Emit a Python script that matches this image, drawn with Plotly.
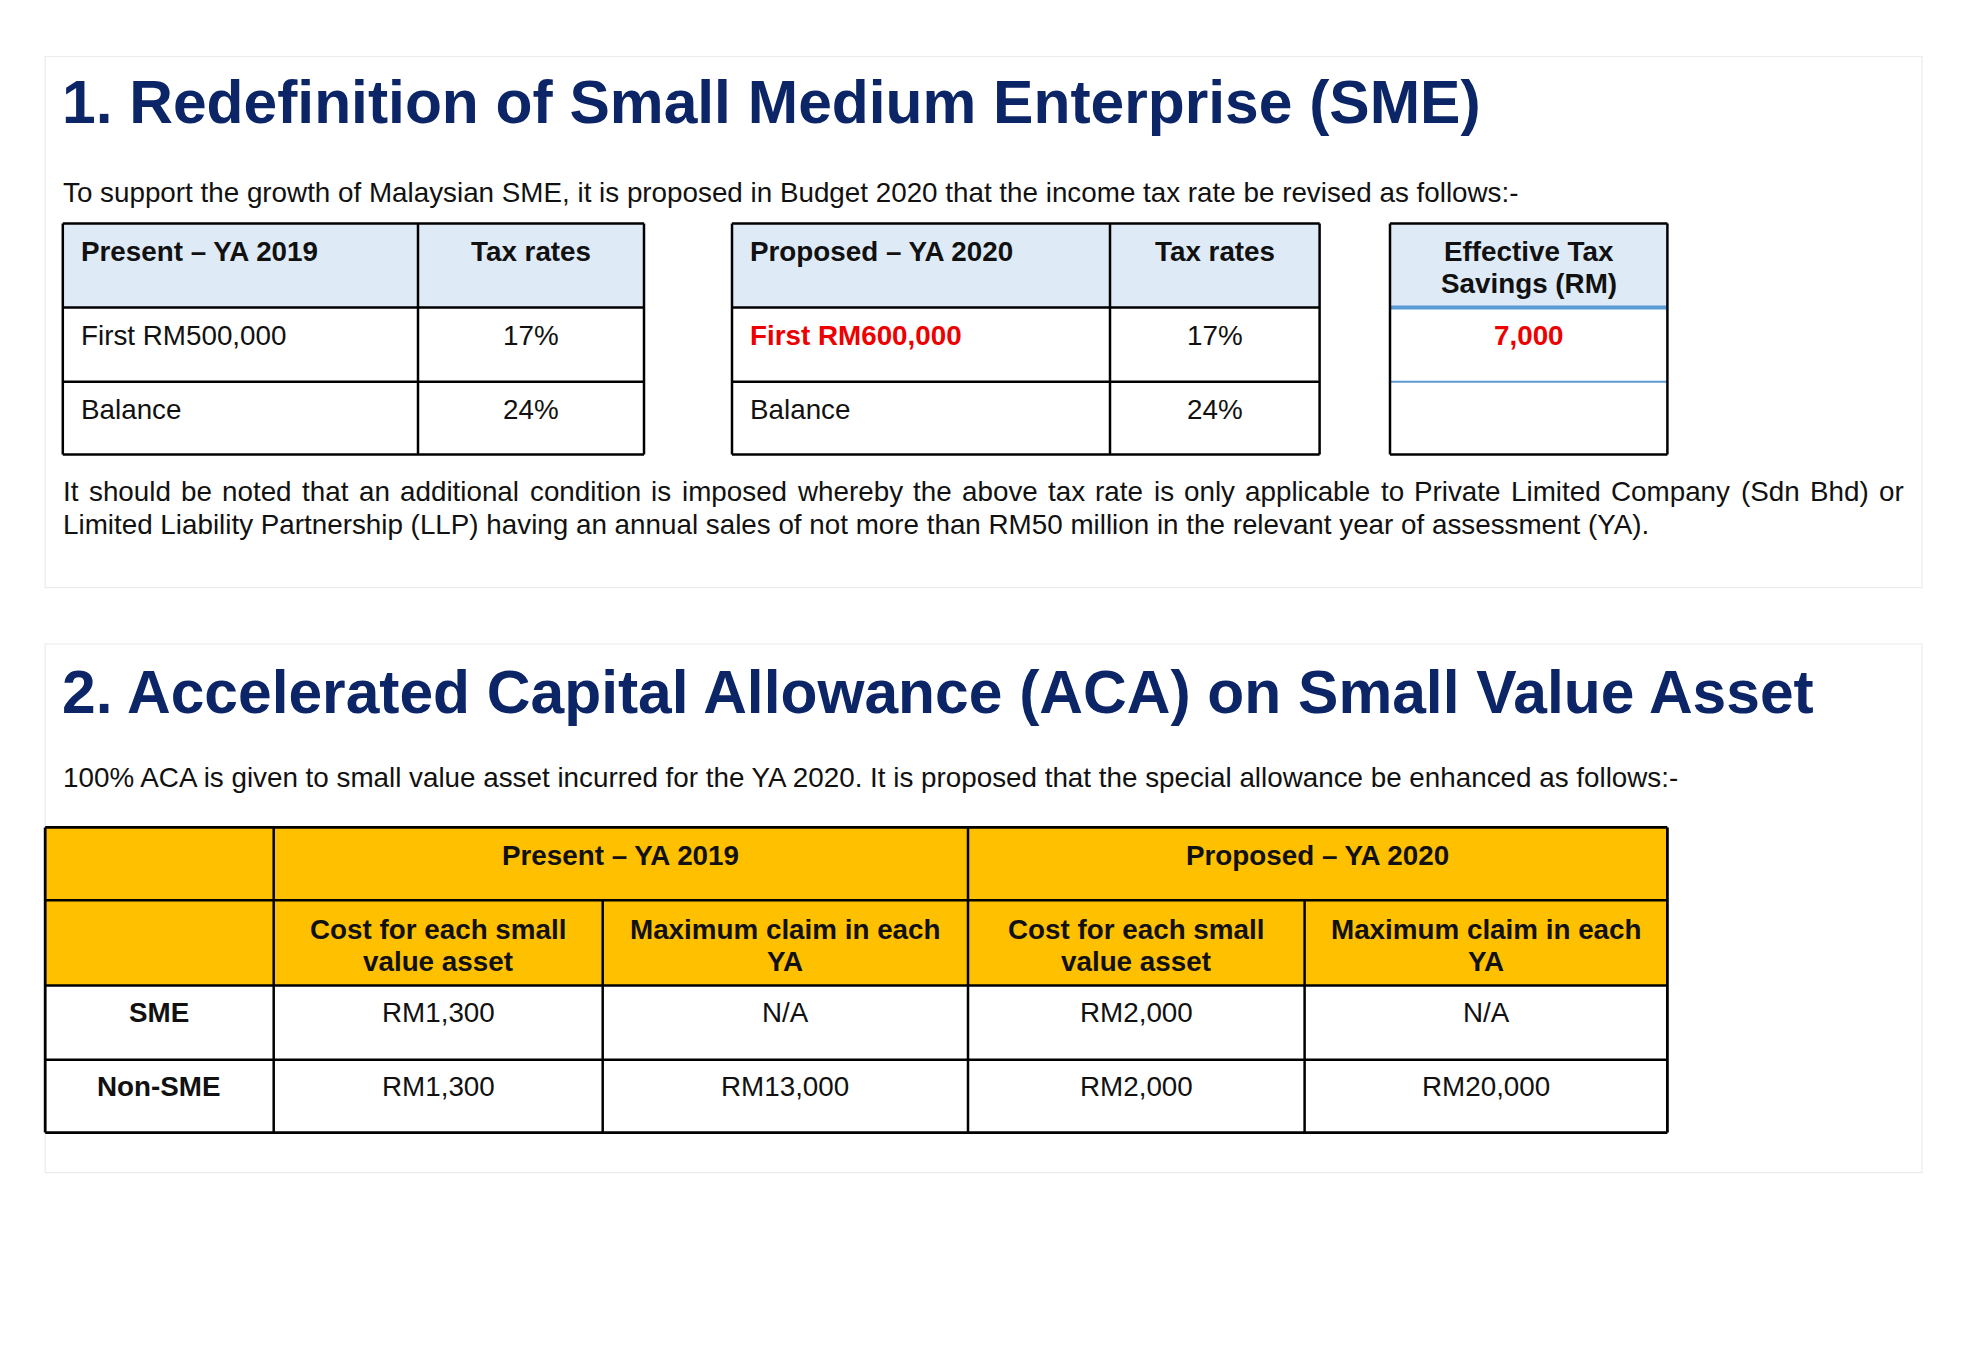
import plotly.graph_objects as go

# ---------------- data ----------------
title1 = "1. Redefinition of Small Medium Enterprise (SME)"
intro1 = ("To support the growth of Malaysian SME, it is proposed in Budget 2020 "
          "that the income tax rate be revised as follows:-")
t1_header = ["Present – YA 2019", "Tax rates"]
t1_rows = [["First RM500,000", "17%"], ["Balance", "24%"]]
t2_header = ["Proposed – YA 2020", "Tax rates"]
t2_rows = [["First RM600,000", "17%"], ["Balance", "24%"]]
t3_header = ["Effective Tax", "Savings (RM)"]
t3_rows = ["7,000", ""]
note_line1 = ("It should be noted that an additional condition is imposed whereby the above "
              "tax rate is only applicable to Private Limited Company (Sdn Bhd) or")
note_line2 = ("Limited Liability Partnership (LLP) having an annual sales of not more "
              "than RM50 million in the relevant year of assessment (YA).")

title2 = "2. Accelerated Capital Allowance (ACA) on Small Value Asset"
intro2 = ("100% ACA is given to small value asset incurred for the YA 2020. "
          "It is proposed that the special allowance be enhanced as follows:-")
t4_groups = ["Present – YA 2019", "Proposed – YA 2020"]
t4_sub = [["Cost for each small", "value asset"], ["Maximum claim in each", "YA"],
          ["Cost for each small", "value asset"], ["Maximum claim in each", "YA"]]
t4_rowlabels = ["SME", "Non-SME"]
t4_values = [["RM1,300", "N/A", "RM2,000", "N/A"],
             ["RM1,300", "RM13,000", "RM2,000", "RM20,000"]]

# ---------------- style ----------------
W, H = 1968, 1363
FONT = "Arial, Liberation Sans, Helvetica, sans-serif"
NAVY = "#0b2566"
RED = "#ee0000"
BLUE_FILL = "#deeaf6"
BLUE_LINE = "#5b9bd5"
GOLD = "#ffc000"
TXT = "#111111"
FS = 27.8
TITLE_FS = 60.5
LW = 2.5
LINE_GAP = 32.7  # distance between two lines inside a cell

# Arial / Liberation Sans advance widths (per 1000 em) for justification
ARIAL_W = {" ": 278, "I": 278, "t": 278, "s": 500, "h": 556, "o": 556, "u": 556, "l": 222,
           "d": 556, "b": 556, "e": 556, "n": 556, "a": 556, "i": 222, "c": 500, "m": 833,
           "p": 556, "w": 722, "r": 333, "y": 500, "x": 500, "v": 500, "P": 667, "L": 556,
           "C": 722, "(": 333, "S": 667, "B": 667, ")": 333}

shapes = []
annotations = []


def rect(x0, y0, x1, y1, fill="rgba(0,0,0,0)", line_color="rgba(0,0,0,0)", lw=0):
    shapes.append(dict(type="rect", xref="x", yref="y", x0=x0, y0=y0, x1=x1, y1=y1,
                       fillcolor=fill, line=dict(color=line_color, width=lw), layer="below"))


def hline(x0, x1, y, color="#000", lw=LW):
    shapes.append(dict(type="line", xref="x", yref="y", x0=x0, x1=x1, y0=y, y1=y,
                       line=dict(color=color, width=lw), layer="above"))


def vline(x, y0, y1, color="#000", lw=LW):
    shapes.append(dict(type="line", xref="x", yref="y", x0=x, x1=x, y0=y0, y1=y1,
                       line=dict(color=color, width=lw), layer="above"))


def text(x, y, s, size=FS, bold=False, color=TXT, anchor="left"):
    if bold:
        s = "<b>" + s + "</b>"
    annotations.append(dict(x=x, y=y, xref="x", yref="y", text=s, showarrow=False,
                            xanchor=anchor, yanchor="middle",
                            font=dict(family=FONT, size=size, color=color),
                            borderpad=0, borderwidth=0))


def text_lines(x, yc, lines, bold=True, anchor="center"):
    n = len(lines)
    for k, s in enumerate(lines):
        text(x, yc + (k - (n - 1) / 2) * LINE_GAP, s, bold=bold, anchor=anchor)


def justified(x0, x1, y, line, size=FS):
    words = line.split(" ")
    wlen = [sum(ARIAL_W.get(ch, 556) for ch in w) / 1000 * size for w in words]
    gap = (x1 - x0 - sum(wlen)) / (len(words) - 1)
    x = x0
    for w, wl in zip(words, wlen):
        text(x, y, w, size=size)
        x += wl + gap


# ---------------- section frames ----------------
rect(45.2, 56.5, 1922, 587.6, fill="white", line_color="#ececec", lw=1.2)
rect(45.2, 644, 1922, 1172.7, fill="white", line_color="#ececec", lw=1.2)

TX = 63  # left text margin

# ---------------- section 1 ----------------
text(TX - 1, 102, title1, size=TITLE_FS, bold=True, color=NAVY)
text(TX, 192, intro1)

rows_y = [223.5, 307.6, 381.7, 454.5]
OFF = 27.6


def simple_table(cols, header, rows, red_first=False):
    rect(cols[0], rows_y[0], cols[-1], rows_y[1], fill=BLUE_FILL)
    for y in rows_y:
        hline(cols[0], cols[-1], y)
    for x in cols:
        vline(x, rows_y[0], rows_y[-1])
    text(cols[0] + 18, rows_y[0] + OFF, header[0], bold=True)
    text((cols[1] + cols[2]) / 2, rows_y[0] + OFF, header[1], bold=True, anchor="center")
    for i, r in enumerate(rows):
        yc = rows_y[i + 1] + OFF
        is_red = red_first and i == 0
        text(cols[0] + 18, yc, r[0], bold=is_red, color=RED if is_red else TXT)
        text((cols[1] + cols[2]) / 2, yc, r[1], anchor="center")


simple_table([62.8, 418, 644], t1_header, t1_rows)
simple_table([732, 1110, 1319.6], t2_header, t2_rows, red_first=True)

# table 3
c3 = [1390, 1667.4]
rect(c3[0], rows_y[0], c3[1], rows_y[1], fill=BLUE_FILL)
hline(c3[0], c3[1], rows_y[0])
hline(c3[0], c3[1], rows_y[-1])
hline(c3[0], c3[1], rows_y[1], color=BLUE_LINE, lw=4)
hline(c3[0], c3[1], rows_y[2], color=BLUE_LINE, lw=2)
vline(c3[0], rows_y[0], rows_y[-1])
vline(c3[1], rows_y[0], rows_y[-1])
xc3 = (c3[0] + c3[1]) / 2
text_lines(xc3, 267.5, t3_header)
for i, v in enumerate(t3_rows):
    if v:
        text(xc3, rows_y[i + 1] + OFF, v, bold=True, color=RED, anchor="center")

# note paragraph: first line justified, second line left
justified(TX, 1903.5, 491, note_line1)
text(TX, 524.8, note_line2)

# ---------------- section 2 ----------------
text(TX - 1, 692, title2, size=TITLE_FS, bold=True, color=NAVY)
text(TX, 777, intro2)

c4 = [45.2, 273.7, 602.7, 968, 1304.6, 1667.4]
r4 = [827.4, 900.3, 985.6, 1059.7, 1132.6]
rect(c4[0], r4[0], c4[-1], r4[2], fill=GOLD)
for y in r4:
    hline(c4[0], c4[-1], y, lw=2.8 if y in (r4[0], r4[-1]) else LW)
vline(c4[0], r4[0], r4[-1], lw=2.8)
vline(c4[-1], r4[0], r4[-1], lw=2.8)
vline(c4[1], r4[0], r4[-1])
vline(c4[3], r4[0], r4[-1])
vline(c4[2], r4[1], r4[-1])
vline(c4[4], r4[1], r4[-1])

text((c4[1] + c4[3]) / 2, r4[0] + OFF, t4_groups[0], bold=True, anchor="center")
text((c4[3] + c4[5]) / 2, r4[0] + OFF, t4_groups[1], bold=True, anchor="center")
for j, sub in enumerate(t4_sub):
    xc = (c4[j + 1] + c4[j + 2]) / 2
    text_lines(xc, 945.4, sub)
for i, lab in enumerate(t4_rowlabels):
    yc = r4[i + 2] + 27
    text((c4[0] + c4[1]) / 2, yc, lab, bold=True, anchor="center")
    for j, v in enumerate(t4_values[i]):
        text((c4[j + 1] + c4[j + 2]) / 2, yc, v, anchor="center")

# ---------------- figure ----------------
fig = go.Figure()
fig.add_trace(go.Scatter(x=[0, W], y=[0, H], mode="markers",
                         marker=dict(opacity=0), hoverinfo="skip", showlegend=False))
fig.update_layout(
    width=W, height=H, margin=dict(l=0, r=0, t=0, b=0),
    paper_bgcolor="white", plot_bgcolor="white",
    xaxis=dict(range=[0, W], visible=False, fixedrange=True),
    yaxis=dict(range=[H, 0], visible=False, fixedrange=True),
    shapes=shapes, annotations=annotations, showlegend=False,
)
fig.write_html("out.html", config={"displayModeBar": False},
               post_script="document.body.style.margin='0';")
